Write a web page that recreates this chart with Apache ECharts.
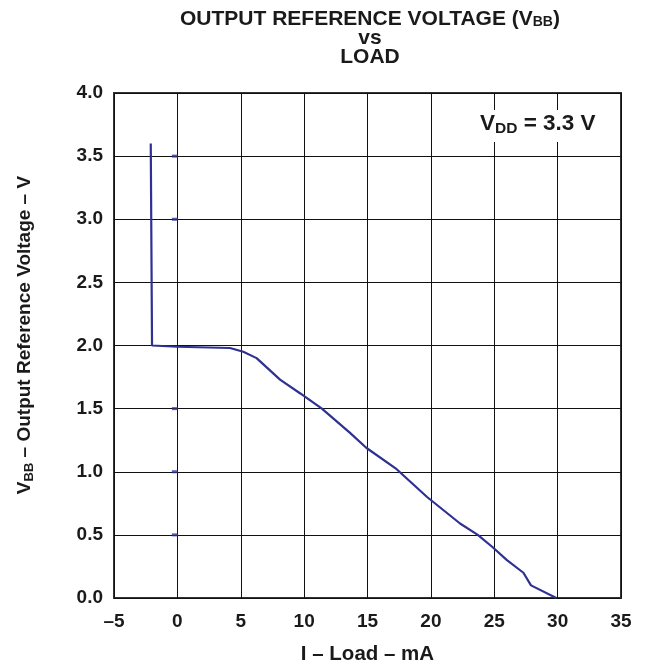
<!DOCTYPE html>
<html>
<head>
<meta charset="utf-8">
<script src="https://cdn.jsdelivr.net/npm/echarts@6/dist/echarts.min.js"></script>
<style>
html,body{margin:0;padding:0;background:#fff;}
#chart{width:660px;height:664px;}
</style>
</head>
<body>
<div id="chart"></div>
<script>
// Load current (mA) and output reference voltage (V)
const loadCurrent = [-2.1, -2.0, 0.0, 4.15, 5.2, 6.25, 8.1, 9.7, 11.4, 13.6, 14.9, 17.3, 19.7, 22.3, 23.7, 24.9, 26.0, 27.3, 27.9, 29.9];
const vbb         = [3.6, 2.0, 1.99, 1.98, 1.95, 1.90, 1.73, 1.62, 1.50, 1.31, 1.19, 1.02, 0.80, 0.59, 0.50, 0.40, 0.30, 0.20, 0.10, 0.0];
// small stray tick marks near x = 0
const markX = [-0.2, -0.2, -0.2, -0.2, -0.2];
const markY = [3.5, 3.0, 1.5, 1.0, 0.5];
const xTicks = [-5, 0, 5, 10, 15, 20, 25, 30, 35];
const yTicks = [0.0, 0.5, 1.0, 1.5, 2.0, 2.5, 3.0, 3.5, 4.0];

const FONT = 'Liberation Sans, Arial, Helvetica, sans-serif';
const TXT = '#1a1a1a';
const BLUE = '#2e3192';

const chart = echarts.init(document.getElementById('chart'), null, {renderer: 'canvas'});
chart.setOption({
  animation: false,
  backgroundColor: '#fff',
  textStyle: {fontFamily: FONT},
  title: {
    left: 365, top: 5, textAlign: 'center',
    text: '{b|OUTPUT REFERENCE VOLTAGE (V}{s|BB}{b|)}\n{b|vs}\n{b|LOAD}',
    textStyle: {
      rich: {
        b: {fontFamily: FONT, fontWeight: 'bold', fontSize: 21, color: TXT, lineHeight: 19},
        s: {fontFamily: FONT, fontWeight: 'bold', fontSize: 14, color: TXT, lineHeight: 19, verticalAlign: 'bottom', padding: [9, 0, 0, 0]}
      }
    }
  },
  grid: {left: 114, right: 39, top: 93, bottom: 66, show: true, borderColor: '#333', borderWidth: 2,
         containLabel: false, outerBoundsMode: 'none'},
  xAxis: {
    type: 'value', min: -5, max: 35, interval: 5,
    axisLine: {show: false}, axisTick: {show: false},
    splitLine: {show: true, lineStyle: {color: '#111', width: 1}},
    axisLabel: {
      margin: 14, color: TXT, fontFamily: FONT, fontWeight: 'bold', fontSize: 19,
      formatter: v => xTicks.includes(v) ? (v < 0 ? '\u2013' + Math.abs(v) : String(v)) : ''
    },
    name: 'I \u2013 Load \u2013 mA', nameLocation: 'middle', nameGap: 46,
    nameTextStyle: {color: TXT, fontFamily: FONT, fontWeight: 'bold', fontSize: 20.5}
  },
  yAxis: {
    type: 'value', min: 0, max: 4, interval: 0.5,
    axisLine: {show: false}, axisTick: {show: false},
    splitLine: {show: true, lineStyle: {color: '#111', width: 1}},
    axisLabel: {
      margin: 11, color: TXT, fontFamily: FONT, fontWeight: 'bold', fontSize: 19,
      formatter: v => yTicks.some(t => Math.abs(t - v) < 1e-6) ? v.toFixed(1) : ''
    }
  },
  graphic: [{
    type: 'text', x: 25, y: 335, rotation: Math.PI / 2, z: 10,
    style: {
      text: '{n|V}{s|BB}{n| \u2013 Output Reference Voltage \u2013 V}',
      align: 'center', verticalAlign: 'middle',
      rich: {
        n: {fontFamily: FONT, fontWeight: 'bold', fontSize: 19, fill: TXT},
        s: {fontFamily: FONT, fontWeight: 'bold', fontSize: 13, fill: TXT, verticalAlign: 'bottom', padding: [9, 0, 0, 0]}
      }
    }
  }, {
    type: 'rect', shape: {x: 470, y: 110, width: 140, height: 32}, z: 10,
    style: {fill: '#fff'}
  }, {
    type: 'text', left: 480, top: 112, z: 11,
    style: {
      text: '{n|V}{s|DD}{n| = 3.3 V}',
      rich: {
        n: {fontFamily: FONT, fontWeight: 'bold', fontSize: 22.5, fill: TXT},
        s: {fontFamily: FONT, fontWeight: 'bold', fontSize: 15.5, fill: TXT, verticalAlign: 'bottom', padding: [10, 0, 0, 0]}
      }
    }
  }],
  series: [{
    type: 'line',
    data: loadCurrent.map((x, i) => [x, vbb[i]]),
    showSymbol: false, symbol: 'none',
    lineStyle: {color: BLUE, width: 2.2},
    z: 5
  }, {
    type: 'scatter',
    data: markX.map((x, i) => [x, markY[i]]),
    symbol: 'rect', symbolSize: [6, 3],
    itemStyle: {color: BLUE},
    z: 5
  }]
});
</script>
</body>
</html>
